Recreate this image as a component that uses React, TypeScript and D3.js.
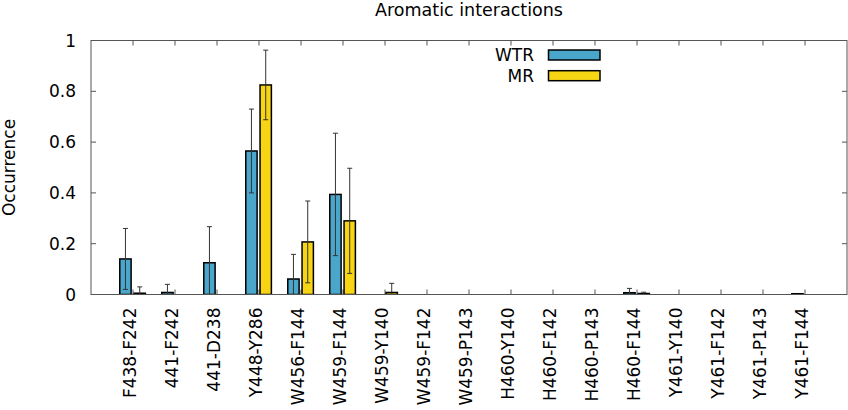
import * as React from "react";
import * as d3 from "d3";

const categories = [
  "F438-F242", "441-F242", "441-D238", "Y448-Y286", "W456-F144", "W459-F144",
  "W459-Y140", "W459-F142", "W459-P143", "H460-Y140", "H460-F142", "H460-P143",
  "H460-F144", "Y461-Y140", "Y461-F142", "Y461-P143", "Y461-F144",
];

const wtrValues = [0.14, 0.008, 0.125, 0.565, 0.061, 0.394, 0, 0, 0, 0, 0, 0, 0.007, 0, 0, 0, 0.003];
const wtrErrors = [0.12, 0.032, 0.142, 0.165, 0.097, 0.241, 0, 0, 0, 0, 0, 0, 0.017, 0, 0, 0, 0];
const mrValues = [0.005, 0, 0, 0.825, 0.207, 0.29, 0.008, 0, 0, 0, 0, 0, 0.004, 0, 0, 0, 0];
const mrErrors = [0.025, 0, 0, 0.137, 0.161, 0.207, 0.036, 0, 0, 0, 0, 0, 0.005, 0, 0, 0, 0];

const yTicks = [0, 0.2, 0.4, 0.6, 0.8, 1];

const series = [
  { name: "WTR", values: wtrValues, errors: wtrErrors, color: "#4aa6ca", offset: -0.18 },
  { name: "MR", values: mrValues, errors: mrErrors, color: "#f7d414", offset: 0.16 },
];

const width = 848;
const height = 410;
const margin = { left: 91, right: 1, top: 40.5, bottom: 115.5 };
const font = "'DejaVu Sans', sans-serif";

export default function App() {
  const x = d3
    .scaleLinear()
    .domain([-1, categories.length])
    .range([margin.left, width - margin.right]);
  const y = d3
    .scaleLinear()
    .domain([0, 1])
    .range([height - margin.bottom, margin.top]);

  const boxWidth = 0.27;
  const bw = x(boxWidth) - x(0);
  const [x0, x1] = x.range();
  const [yBottom, yTop] = y.range();

  return (
    <svg
      width={width}
      height={height}
      style={{ position: "absolute", left: 0, top: 0, background: "#fff" }}
      fontFamily={font}
    >
      <defs>
        <clipPath id="plot">
          <rect x={x0} y={yTop} width={x1 - x0} height={yBottom - yTop} />
        </clipPath>
      </defs>

      <text x={(x0 + x1) / 2} y={16} textAnchor="middle" fontSize={17.5}>
        Aromatic interactions
      </text>

      {/* y axis */}
      {yTicks.map((t) => (
        <g key={t}>
          <line x1={x0} x2={x0 + 5} y1={y(t)} y2={y(t)} stroke="#555" />
          <line x1={x1 - 5} x2={x1} y1={y(t)} y2={y(t)} stroke="#555" />
          <text x={76} y={y(t)} dy="0.36em" textAnchor="end" fontSize={17}>
            {d3.format("~g")(t)}
          </text>
        </g>
      ))}
      <text
        transform={`translate(15,${(yTop + yBottom) / 2}) rotate(-90)`}
        textAnchor="middle"
        fontSize={17}
      >
        Occurrence
      </text>

      {/* x axis */}
      {categories.map((c, i) => (
        <g key={c}>
          <line x1={x(i)} x2={x(i)} y1={yBottom} y2={yBottom - 5} stroke="#555" />
          <line x1={x(i)} x2={x(i)} y1={yTop} y2={yTop + 5} stroke="#555" />
          <text
            transform={`translate(${x(i) - 3},${yBottom + 13}) rotate(-90)`}
            dy="0.36em"
            textAnchor="end"
            fontSize={17}
          >
            {c}
          </text>
        </g>
      ))}

      {/* bars */}
      <g clipPath="url(#plot)">
        {series.map((s) =>
          s.values.map((v, i) => {
            if (v === 0 && s.errors[i] === 0) return null;
            const cx = x(i + s.offset);
            const e = s.errors[i];
            return (
              <g key={s.name + i}>
                <rect
                  x={cx - bw / 2}
                  y={y(v)}
                  width={bw}
                  height={yBottom - y(v)}
                  fill={s.color}
                  stroke="#000"
                  strokeWidth={1.5}
                />
                {e > 0 && (
                  <g stroke="#333" strokeWidth={1}>
                    <line x1={cx} x2={cx} y1={y(v - e)} y2={y(v + e)} />
                    <line x1={cx - 2.5} x2={cx + 2.5} y1={y(v + e)} y2={y(v + e)} />
                    <line x1={cx - 2.5} x2={cx + 2.5} y1={y(v - e)} y2={y(v - e)} />
                  </g>
                )}
              </g>
            );
          })
        )}
      </g>

      {/* frame */}
      <rect
        x={x0}
        y={yTop}
        width={x1 - x0}
        height={yBottom - yTop}
        fill="none"
        stroke="#555"
        strokeWidth={1}
      />

      {/* legend */}
      {series.map((s, i) => (
        <g key={s.name} transform={`translate(0,${55 + i * 20.7})`}>
          <text x={534} y={0} dy="0.36em" textAnchor="end" fontSize={17}>
            {s.name}
          </text>
          <rect x={548.5} y={-5} width={51.5} height={10} fill={s.color} stroke="#000" strokeWidth={1.5} />
        </g>
      ))}
    </svg>
  );
}
